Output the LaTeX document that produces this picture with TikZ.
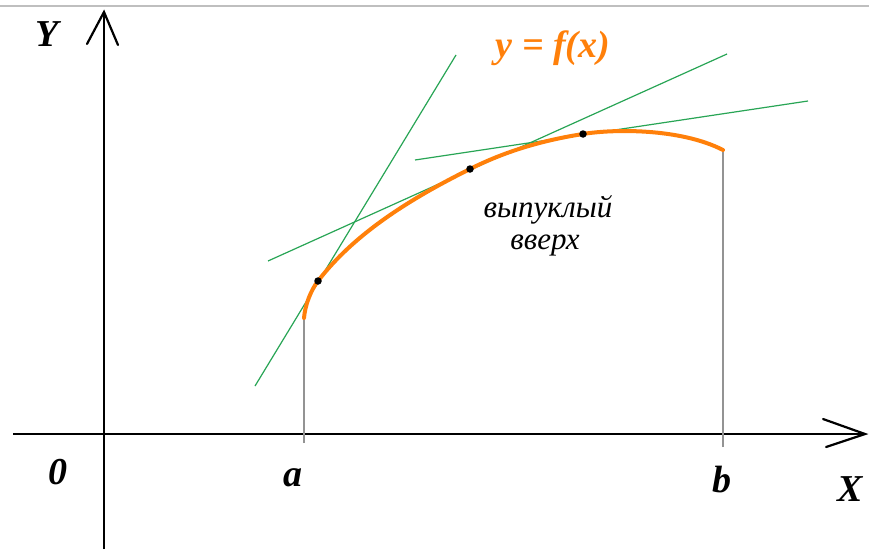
\documentclass[tikz,border=0pt]{standalone}
\usepackage{fontspec}
\setmainfont{Liberation Serif}
\begin{document}
\begin{tikzpicture}[x=1pt,y=-1pt,
  axis/.style={line width=2.6pt,black},
  arrowarm/.style={line width=2.2pt,black,line cap=round},
  tangent/.style={line width=1.2pt,color=tgreen},
  bound/.style={line width=1.6pt,color=gray!85},
  curve/.style={line width=4pt,color=forange,line cap=round},
  pt/.style={circle,fill=black,inner sep=0pt,minimum size=7.5pt},
  lbl/.style={font=\fontsize{38}{40}\selectfont\bfseries\itshape,inner sep=0pt},
  txt/.style={font=\fontsize{31}{33}\selectfont\itshape,inner sep=0pt}]
\definecolor{tgreen}{RGB}{40,165,85}
\definecolor{forange}{RGB}{255,128,10}
\useasboundingbox (0,0) rectangle (869,549);
\fill[white] (0,0) rectangle (869,549);
% top frame line
\coordinate (tl) at (0,6); \coordinate (tr) at (869,6);
\draw[line width=1.2pt,color=gray!50] (tl) -- (tr);
% axes
\coordinate (ybot) at (104,549); \coordinate (ytip) at (104,12);
\coordinate (yarmL) at (87,44); \coordinate (yarmR) at (118,45);
\coordinate (xleft) at (13,434); \coordinate (xtip) at (865,434);
\coordinate (xarmU) at (823,419); \coordinate (xarmD) at (826,447);
\draw[axis] (ybot) -- (ytip);
\draw[arrowarm] (yarmL) -- (ytip) -- (yarmR);
\draw[axis] (xleft) -- (xtip);
\draw[arrowarm] (xarmU) -- (xtip) -- (xarmD);
% bounds
\coordinate (a0) at (304,443); \coordinate (a1) at (304,318);
\coordinate (b0) at (723,447); \coordinate (b1) at (723,150);
\draw[bound] (a0) -- (a1);
\draw[bound] (b0) -- (b1);
% tangents
\coordinate (t1s) at (255,386); \coordinate (t1e) at (456,55);
\coordinate (t2s) at (268,261); \coordinate (t2e) at (727,54);
\coordinate (t3s) at (415,160); \coordinate (t3e) at (808,101);
\draw[tangent] (t1s) -- (t1e);
\draw[tangent] (t2s) -- (t2e);
\draw[tangent] (t3s) -- (t3e);
% curve
\coordinate (p1) at (318,281); \coordinate (p2) at (470,169); \coordinate (p3) at (583,134);
\draw[curve] (a1) .. controls (305,305) and (311,290) .. (p1)
  .. controls (358,229) and (420,194) .. (p2)
  .. controls (508,150) and (545,140) .. (p3)
  .. controls (613,129) and (680,128) .. (b1);
\node[pt] (d1) at (p1) {};
\node[pt] (d2) at (p2) {};
\node[pt] (d3) at (p3) {};
% labels
\node[lbl] (Ylbl) at (47,34) {Y};
\node[lbl,color=forange] (flbl) at (553,48) {y = f(x)};
\node[txt] (t1) at (548,210) {выпуклый};
\node[txt] (t2) at (545,245) {вверх};
\node[lbl] (zero) at (58,472) {0};
\node[lbl] (alb) at (293,478) {a};
\node[lbl] (blb) at (722,480) {b};
\node[lbl] (Xlbl) at (850,489) {X};
\end{tikzpicture}
\end{document}
